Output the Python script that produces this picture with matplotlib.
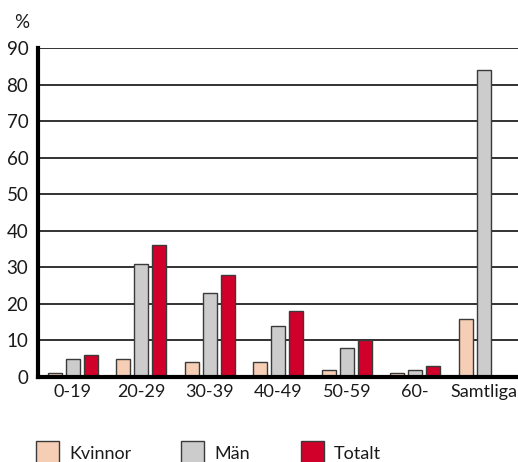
import matplotlib
matplotlib.use("Agg")
import matplotlib.pyplot as plt
from matplotlib.patches import Rectangle
import numpy as np

categories = ["0-19", "20-29", "30-39", "40-49", "50-59", "60-", "Samtliga"]
kvinnor = [1, 5, 4, 4, 2, 1, 16]
man = [5, 31, 23, 14, 8, 2, 84]
totalt = [6, 36, 28, 18, 10, 3, None]
series_names = ["Kvinnor", "Män", "Totalt"]
colors = ["#F6CEB5", "#CCCCCC", "#D0002A"]
yticks = [0, 10, 20, 30, 40, 50, 60, 70, 80, 90]

plt.rcParams["font.family"] = ["Lato", "DejaVu Sans"]
FS = 13

fig = plt.figure(figsize=(5.18, 4.62), dpi=100)
ax = fig.add_axes([38 / 518, 1 - 377 / 462, 1 - 38 / 518, (377 - 48) / 462])

x = np.arange(len(categories))
w = 0.205
off = 0.263
edge = "#3a3a3a"
for vals, dx, c in zip([kvinnor, man, totalt], [-off, 0, off], colors):
    xs = [xi + dx for xi, v in zip(x, vals) if v is not None]
    vs = [v for v in vals if v is not None]
    ax.bar(xs, vs, width=w, color=c, edgecolor=edge, linewidth=1.0, zorder=3)

ax.set_xlim(-0.51, 6.5)
ax.set_ylim(0, 90)
ax.set_yticks(yticks)
ax.set_yticklabels([str(t) for t in yticks], fontsize=13.5, color="#1a1a1a")
ax.set_xticks(x)
ax.set_xticklabels(categories, fontsize=FS, color="#1a1a1a")
ax.tick_params(axis="both", length=0, pad=5)
ax.tick_params(axis="y", pad=7)
for t in yticks[1:]:
    ax.axhline(t, color="#222222", linewidth=1.3, zorder=1)
for s in ["top", "right"]:
    ax.spines[s].set_visible(False)
ax.spines["left"].set_linewidth(3)
ax.spines["bottom"].set_linewidth(3)
ax.spines["left"].set_zorder(4)
ax.spines["bottom"].set_zorder(4)

fig.text(22 / 518, 1 - 22 / 462, "%", fontsize=13.5, ha="center", va="center", color="#1a1a1a")

# legend row
for name, c, x0 in zip(series_names, colors, [36, 181, 301]):
    fig.patches.append(Rectangle((x0 / 518, 1 - 466 / 462), 23 / 518, 25 / 462,
                                 transform=fig.transFigure, facecolor=c,
                                 edgecolor=edge, linewidth=1.0))
    fig.text((x0 + 33) / 518, 1 - 459 / 462, name, fontsize=FS, ha="left",
             va="baseline", color="#1a1a1a")

fig.savefig("out.png", dpi=100)
